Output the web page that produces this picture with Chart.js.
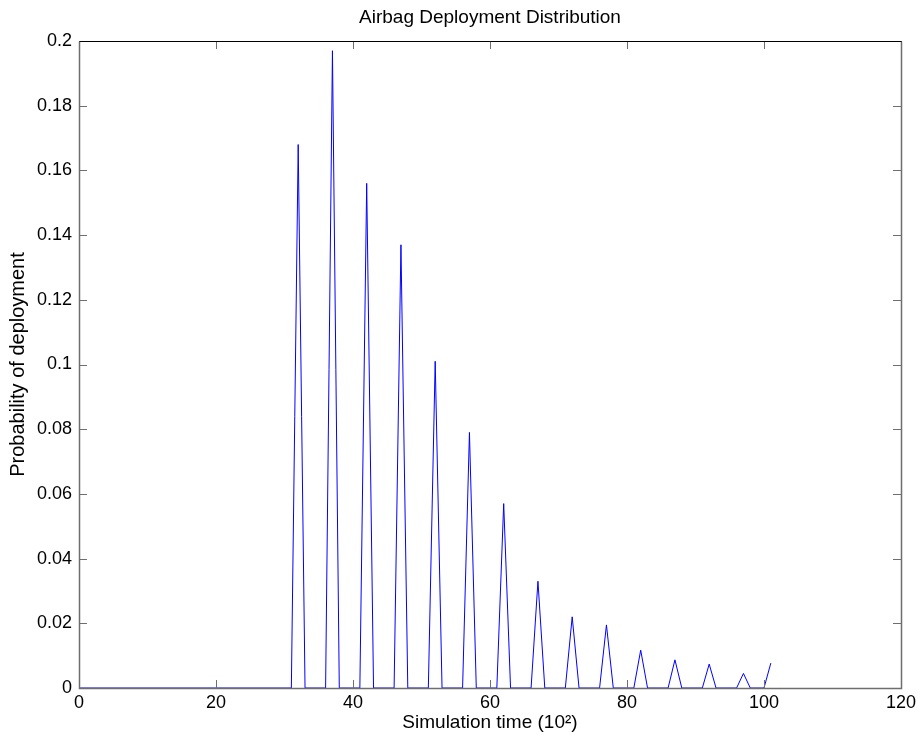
<!DOCTYPE html>
<html>
<head>
<meta charset="utf-8">
<script src="https://cdn.jsdelivr.net/npm/chart.js@4"></script>
<style>
  body { margin: 0; background: #fff; }
  #wrap { width: 920px; height: 747px; }
</style>
</head>
<body>
<div id="wrap"><canvas id="airbagChart"></canvas></div>
<script>
// spike positions (simulation time, x10^2) and peak probabilities
const peakTimes = [32, 37, 42, 47, 52, 57, 62, 67, 72, 77, 82, 87, 92, 97, 101];
const peakProbs = [0.168, 0.197, 0.156, 0.137, 0.101, 0.079, 0.057, 0.033, 0.022, 0.0195, 0.0117, 0.0087, 0.0074, 0.0045, 0.0077];
const xTicks = [0, 20, 40, 60, 80, 100, 120];
const yTicks = [0, 0.02, 0.04, 0.06, 0.08, 0.1, 0.12, 0.14, 0.16, 0.18, 0.2];

const FONT = '"Liberation Sans", Arial, sans-serif';

// each spike: zero one step before, the peak, zero one step after (the last one is cut at its peak)
const points = [{ x: 0, y: 0 }];
peakTimes.forEach((t, i) => {
  points.push({ x: t - 1, y: 0 });
  points.push({ x: t, y: peakProbs[i] });
  if (i < peakTimes.length - 1) points.push({ x: t + 1, y: 0 });
});

// matlab style box with inward ticks, plus title centred on the axes
const boxPlugin = {
  id: 'matlabBox',
  afterDraw(chart) {
    const { ctx, chartArea: a, scales: { x, y } } = chart;
    const len = 8;
    ctx.save();
    ctx.lineWidth = 1;
    ctx.strokeStyle = '#6e6e6e';
    ctx.beginPath();
    xTicks.forEach(v => {
      const px = Math.round(x.getPixelForValue(v)) + 0.5;
      ctx.moveTo(px, a.bottom); ctx.lineTo(px, a.bottom - len);
      ctx.moveTo(px, a.top); ctx.lineTo(px, a.top + len);
    });
    yTicks.forEach(v => {
      const py = Math.round(y.getPixelForValue(v)) + 0.5;
      ctx.moveTo(a.left, py); ctx.lineTo(a.left + len, py);
      ctx.moveTo(a.right, py); ctx.lineTo(a.right - len, py);
    });
    ctx.stroke();
    const l = Math.round(a.left) + 0.5, r = Math.round(a.right) + 0.5;
    const t = Math.round(a.top) + 0.5, b = Math.round(a.bottom) + 0.5;
    ctx.lineWidth = 1.5;
    ctx.beginPath();
    ctx.moveTo(l, t); ctx.lineTo(l, b); ctx.lineTo(r, b); ctx.lineTo(r, t);
    ctx.stroke();
    ctx.lineWidth = 1;
    ctx.strokeStyle = '#000';
    ctx.beginPath();
    ctx.moveTo(l, t); ctx.lineTo(r, t);
    ctx.stroke();

    ctx.fillStyle = '#000';
    ctx.font = '19px ' + FONT;
    ctx.textAlign = 'center';
    ctx.textBaseline = 'middle';
    ctx.fillText('Airbag Deployment Distribution', (a.left + a.right) / 2, 18);
    ctx.restore();
  }
};

new Chart(document.getElementById('airbagChart'), {
  type: 'scatter',
  data: {
    datasets: [{
      data: points,
      showLine: true,
      borderColor: '#0000ff',
      borderWidth: 1,
      pointRadius: 0,
      tension: 0
    }]
  },
  options: {
    responsive: true,
    maintainAspectRatio: false,
    animation: false,
    layout: { padding: { top: 41, right: 19, left: 0, bottom: 0 } },
    plugins: {
      legend: { display: false },
      tooltip: { enabled: false }
    },
    scales: {
      x: {
        type: 'linear',
        min: 0,
        max: 120,
        afterBuildTicks: s => { s.ticks = xTicks.map(v => ({ value: v })); },
        afterFit: s => { s.height = 59; },
        grid: { display: false, drawTicks: false },
        border: { display: false },
        ticks: { padding: 4, color: '#000', font: { family: FONT, size: 18 }, maxRotation: 0 },
        title: {
          display: true,
          text: 'Simulation time (10²)',
          color: '#000',
          font: { family: FONT, size: 19 },
          padding: { top: 0, bottom: 13 }
        }
      },
      y: {
        type: 'linear',
        min: 0,
        max: 0.2,
        afterBuildTicks: s => { s.ticks = yTicks.map(v => ({ value: v })); },
        afterFit: s => { s.width = 79; },
        grid: { display: false, drawTicks: false },
        border: { display: false },
        ticks: {
          padding: 7,
          color: '#000',
          font: { family: FONT, size: 18 },
          callback: v => String(+v.toFixed(2))
        },
        title: {
          display: true,
          text: 'Probability of deployment',
          color: '#000',
          font: { family: FONT, size: 20 },
          padding: { top: 6, bottom: 0 }
        }
      }
    }
  },
  plugins: [boxPlugin]
});
</script>
</body>
</html>
